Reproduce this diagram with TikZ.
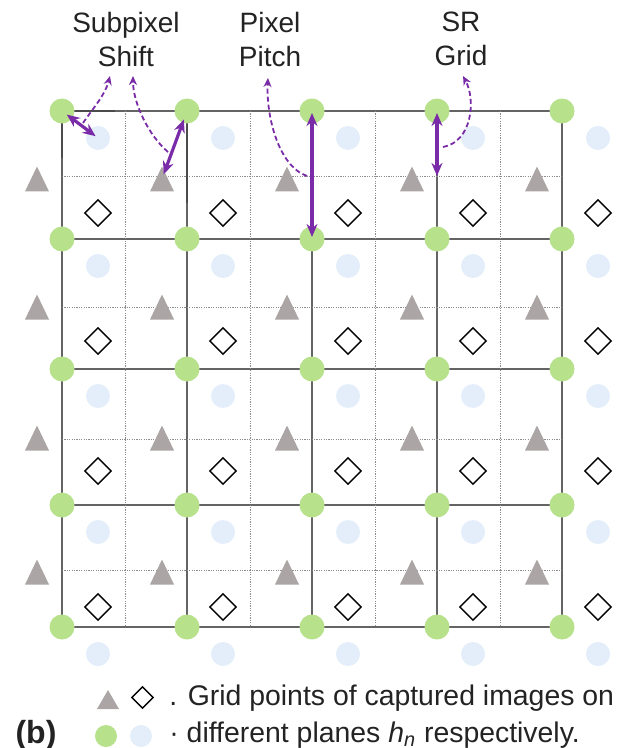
\documentclass[tikz,border=0pt]{standalone}
\usepackage{fontspec}
\setmainfont{Liberation Sans}
\usetikzlibrary{shapes.geometric,arrows.meta,calc}
\definecolor{gr}{RGB}{184,225,140}
\definecolor{lb}{RGB}{228,238,250}
\definecolor{tg}{RGB}{172,165,165}
\definecolor{pu}{RGB}{122,44,168}
\definecolor{gl}{RGB}{100,100,100}
\definecolor{dl}{RGB}{140,140,140}
\definecolor{dk}{RGB}{75,75,75}
\definecolor{tx}{RGB}{35,35,35}
\begin{document}
\begin{tikzpicture}[x=0.5pt,y=-0.5pt,
  greendot/.style={circle, fill=gr, inner sep=0, minimum size=12.5pt},
  bluedot/.style={circle, fill=lb, inner sep=0, minimum size=12pt},
  dia/.style={diamond, draw=black, fill=white, line width=0.7pt, inner sep=0, minimum width=13.5pt, minimum height=13.5pt},
  gridline/.style={draw=gl, line width=0.8pt},
  subline/.style={draw=dl, line width=0.5pt, dash pattern=on 0.6pt off 0.6pt},
  darkseg/.style={draw=dk, line width=1.1pt},
  parrow/.style={draw=pu, line width=1.6pt, {Stealth[length=6.5pt,width=5.5pt]}-{Stealth[length=6.5pt,width=5.5pt]}},
  pdash/.style={draw=pu, line width=0.9pt, dash pattern=on 2.5pt off 1.5pt, -{Stealth[length=4.5pt,width=4pt]}},
  lab/.style={font=\fontsize{14}{17}\selectfont, text=tx, align=center, inner sep=0, anchor=north},
  legtext/.style={font=\fontsize{14.2}{17}\selectfont, text=tx, inner sep=0, anchor=base west},
  tri/.pic={\fill[tg] (-12,12.5) -- (12,12.5) -- (0,-12.5) -- cycle;},
  legtri/.pic={\fill[tg] (-11,9) -- (11,9) -- (0,-10) -- cycle;}
]
\useasboundingbox (0,0) rectangle (619,748);

% solid grid
\foreach \y in {111,239,369,505,627} \draw[gridline] (62,\y) -- (562,\y);
\foreach \x in {62,187,312,437,562} \draw[gridline] (\x,111) -- (\x,627);
% sub grid
\foreach \y in {177,307,439,570} \draw[subline] (62,\y) -- (562,\y);
\foreach \x in {125,250,375,500} \draw[subline] (\x,111) -- (\x,627);
% darker pixel outline pieces
\draw[darkseg] (62,111) -- (115,111);
\draw[darkseg] (62,111) -- (62,158);
\draw[darkseg] (187,111) -- (187,203);

% light blue points
\foreach \x [count=\j from 0] in {98,223,348,473,598}
  \foreach \y [count=\i from 0] in {138,266,396,532,654}
    \node[bluedot] (b-\j-\i) at (\x,\y) {};
% triangles
\foreach \x [count=\j from 0] in {37,162,287,412,537}
  \foreach \y [count=\i from 0] in {179,307,438,572} {
    \pic at (\x,\y) {tri};
    \coordinate (t-\j-\i) at (\x,\y);
  }
% diamonds
\foreach \x [count=\j from 0] in {98,223,348,473,598}
  \foreach \y [count=\i from 0] in {213,341,471,607}
    \node[dia] (d-\j-\i) at (\x,\y) {};
% green points
\foreach \x [count=\j from 0] in {62,187,312,437,562}
  \foreach \y [count=\i from 0] in {111,239,369,505,627}
    \node[greendot] (g-\j-\i) at (\x,\y) {};

% labels
\node[lab] (sub) at (126,12) {Subpixel\\Shift};
\node[lab] (pix) at (270,12) {Pixel\\Pitch};
\node[lab] (srl) at (461,12) {SR\\Grid};

% solid purple arrows
\coordinate (srend) at (437,176);
\draw[parrow, shorten <=3pt, shorten >=1.5pt] (g-0-0.center) -- (b-0-0.center);
\draw[parrow, shorten <=4.5pt, shorten >=2.5pt] (g-1-0.center) -- (t-1-0);
\draw[parrow, shorten <=1pt, shorten >=1pt] (g-2-0.center) -- (g-2-1.center);
\draw[parrow, shorten <=1pt] (g-3-0.center) -- (srend);

% dashed purple pointers
\coordinate (a0) at (83,123);  \coordinate (a1) at (110,76);
\coordinate (b0) at (168,152); \coordinate (b1) at (133,76);
\coordinate (c0) at (307,176); \coordinate (c1) at (268,78);
\coordinate (d0) at (443,147); \coordinate (d1) at (463,76);
\draw[pdash] (a0) .. controls (94,107) and (105,95) .. (a1);
\draw[pdash] (b0) .. controls (149,136) and (133,103) .. (b1);
\draw[pdash] (c0) .. controls (278,166) and (266,115) .. (c1);
\draw[pdash] (d0) .. controls (472,142) and (476,100) .. (d1);

% legend
\pic at (108,700) {legtri};
\node[dia, minimum width=11pt, minimum height=11pt] (ld) at (142.5,697.5) {};
\node[greendot, minimum size=11pt] (lg) at (106,736) {};
\node[bluedot, minimum size=11pt] (lbl) at (141,736) {};
\node[legtext] (l1) at (169,705) {. Grid points of captured images on};
\node[legtext] (l2) at (169,742) {· different planes \textit{h}\textsubscript{\textit{n}} respectively.};
\node[font=\fontsize{16}{19}\selectfont\bfseries, text=tx, inner sep=0, anchor=base] (blab) at (36,743) {(b)};
\end{tikzpicture}
\end{document}
